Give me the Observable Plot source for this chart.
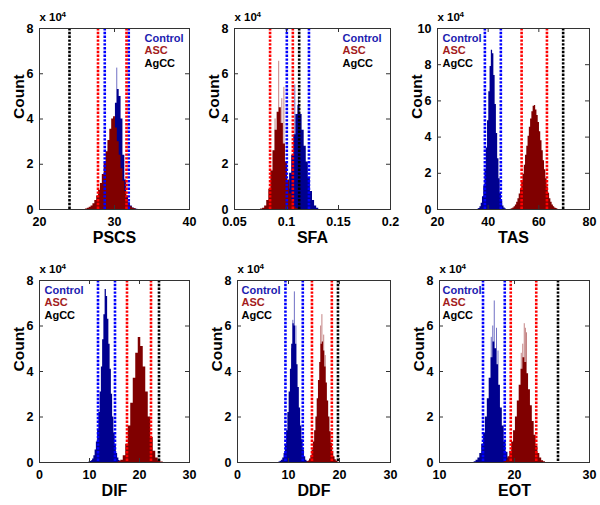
<!DOCTYPE html>
<html><head><meta charset="utf-8">
<script src="https://cdn.jsdelivr.net/npm/d3@7"></script>
<script src="https://cdn.jsdelivr.net/npm/@observablehq/plot@0.6"></script>
<style>
body{margin:0;background:#fff;}
#chart{position:relative;width:600px;height:505px;overflow:hidden;background:#fff;}
#chart svg{position:absolute;overflow:visible;}
</style></head><body><div id="chart"></div>
<script>
// ---------- data (counts in units of 10^4) ----------
const panelNames = ["PSCS", "SFA", "TAS", "DIF", "DDF", "EOT"];
const seriesNames = ["Control", "ASC", "AgCC"];
const xDomains = [[20, 40], [0.05, 0.2], [20, 80], [0, 30], [0, 30], [10, 30]];
const yMax = [8, 8, 10, 8, 8, 8];
const xTicks = [[20, 30, 40], [0.05, 0.1, 0.15, 0.2], [20, 40, 60, 80], [0, 10, 20, 30], [0, 10, 20, 30], [10, 20, 30]];
const xTickLabels = [["20", "30", "40"], ["0.05", "0.1", "0.15", "0.2"], ["20", "40", "60", "80"], ["0", "10", "20", "30"], ["0", "10", "20", "30"], ["10", "20", "30"]];
const yTicks = [[0, 2, 4, 6, 8], [0, 2, 4, 6, 8], [0, 2, 4, 6, 8, 10], [0, 2, 4, 6, 8], [0, 2, 4, 6, 8], [0, 2, 4, 6, 8]];
const yTickLabels = [["0", "2", "4", "6", "8"], ["0", "2", "4", "6", "8"], ["0", "2", "4", "6", "8", "10"], ["0", "2", "4", "6", "8"], ["0", "2", "4", "6", "8"], ["0", "2", "4", "6", "8"]];
const controlBinWidth = [0.25, 0.002, 0.5, 0.25, 0.25, 0.25];
const ascBinWidth = [0.25, 0.002, 0.5, 0.5, 0.25, 0.25];

const pscsControl = [[27.0,0.02],[27.25,0.04],[27.5,0.08],[27.75,0.15],[28.0,0.25],[28.25,0.45],[28.5,0.7],[28.75,1.0],[29.0,1.5],[29.25,2.0],[29.5,2.6],[29.75,3.3],[30.0,4.0],[30.25,4.7],[30.5,5.3],[30.75,5.0],[31.0,4.0],[31.25,2.4],[31.5,1.3],[31.75,0.6],[32.0,0.3],[32.25,0.15],[32.5,0.07],[32.75,0.03],[33.0,0.01]];
const pscsASC = [[26.25,0.02],[26.5,0.05],[26.75,0.1],[27.0,0.15],[27.25,0.25],[27.5,0.4],[27.75,0.6],[28.0,0.85],[28.25,1.15],[28.5,1.55],[28.75,2.05],[29.0,2.55],[29.25,3.05],[29.5,3.55],[29.75,4.0],[30.0,4.1],[30.25,3.6],[30.5,3.0],[30.75,2.4],[31.0,1.8],[31.25,1.25],[31.5,0.8],[31.75,0.45],[32.0,0.25],[32.25,0.12],[32.5,0.06],[32.75,0.03]];
const sfaControl = [[0.096,0.05],[0.098,0.2],[0.100,0.5],[0.102,0.9],[0.104,1.6],[0.106,2.4],[0.108,3.3],[0.110,4.2],[0.112,4.6],[0.114,4.2],[0.116,3.5],[0.118,2.8],[0.120,2.1],[0.122,1.4],[0.124,0.8],[0.126,0.4],[0.128,0.15],[0.130,0.05]];
const sfaASC = [[0.076,0.02],[0.078,0.06],[0.080,0.15],[0.082,0.4],[0.084,0.9],[0.086,1.7],[0.088,2.6],[0.090,3.5],[0.092,4.3],[0.094,4.5],[0.096,3.8],[0.098,2.9],[0.100,2.1],[0.102,1.3],[0.104,0.7],[0.106,0.35],[0.108,0.12],[0.110,0.04]];
const tasControl = [[36,0.02],[36.5,0.06],[37,0.15],[37.5,0.35],[38,0.7],[38.5,1.3],[39,2.2],[39.5,3.4],[40,4.9],[40.5,6.5],[41,7.9],[41.5,8.8],[42,8.6],[42.5,7.4],[43,5.8],[43.5,4.2],[44,2.8],[44.5,1.7],[45,0.9],[45.5,0.45],[46,0.2],[46.5,0.08],[47,0.03]];
const tasASC = [[49,0.02],[49.5,0.04],[50,0.08],[50.5,0.15],[51,0.25],[51.5,0.4],[52,0.6],[52.5,0.85],[53,1.15],[53.5,1.5],[54,1.95],[54.5,2.45],[55,3.0],[55.5,3.5],[56,4.05],[56.5,4.55],[57,5.0],[57.5,5.4],[58,5.7],[58.5,5.75],[59,5.5],[59.5,5.2],[60,4.8],[60.5,4.3],[61,3.8],[61.5,3.25],[62,2.7],[62.5,2.2],[63,1.7],[63.5,1.25],[64,0.9],[64.5,0.6],[65,0.4],[65.5,0.25],[66,0.15],[66.5,0.08],[67,0.05],[67.5,0.02]];
const difControl = [[10.0,0.02],[10.25,0.04],[10.5,0.08],[10.75,0.15],[11.0,0.3],[11.25,0.55],[11.5,0.9],[11.75,1.45],[12.0,2.2],[12.25,3.1],[12.5,4.2],[12.75,5.4],[13.0,6.5],[13.25,7.6],[13.5,7.3],[13.75,6.3],[14.0,5.2],[14.25,4.1],[14.5,3.0],[14.75,2.0],[15.0,1.3],[15.25,0.75],[15.5,0.4],[15.75,0.2],[16.0,0.09],[16.25,0.04]];
const difASC = [[16,0.03],[16.5,0.1],[17,0.3],[17.5,0.8],[18,1.6],[18.5,2.6],[19,3.7],[19.5,4.8],[20,5.5],[20.5,5.1],[21,4.2],[21.5,3.1],[22,2.0],[22.5,1.1],[23,0.5],[23.5,0.2],[24,0.07],[24.5,0.02]];
const ddfControl = [[8.25,0.02],[8.5,0.05],[8.75,0.1],[9.0,0.2],[9.25,0.4],[9.5,0.8],[9.75,1.4],[10.0,2.2],[10.25,3.1],[10.5,4.1],[10.75,5.2],[11.0,6.1],[11.25,6.0],[11.5,5.2],[11.75,4.3],[12.0,3.3],[12.25,2.4],[12.5,1.6],[12.75,1.0],[13.0,0.55],[13.25,0.25],[13.5,0.1],[13.75,0.04]];
const ddfASC = [[13.75,0.03],[14.0,0.07],[14.25,0.15],[14.5,0.3],[14.75,0.55],[15.0,0.9],[15.25,1.4],[15.5,2.0],[15.75,2.8],[16.0,3.6],[16.25,4.4],[16.5,5.2],[16.75,5.3],[17.0,4.9],[17.25,4.2],[17.5,3.5],[17.75,2.7],[18.0,2.0],[18.25,1.35],[18.5,0.85],[18.75,0.5],[19.0,0.25],[19.25,0.12],[19.5,0.05],[19.75,0.02]];
const eotControl = [[14.75,0.03],[15.0,0.1],[15.25,0.2],[15.5,0.4],[15.75,0.8],[16.0,1.3],[16.25,2.0],[16.5,2.8],[16.75,3.7],[17.0,4.6],[17.25,5.3],[17.5,5.0],[17.75,4.3],[18.0,3.4],[18.25,2.4],[18.5,1.6],[18.75,0.9],[19.0,0.45],[19.25,0.2],[19.5,0.06]];
const eotASC = [[18.75,0.03],[19.0,0.1],[19.25,0.25],[19.5,0.5],[19.75,0.9],[20.0,1.4],[20.25,2.0],[20.5,2.7],[20.75,3.4],[21.0,4.1],[21.25,4.6],[21.5,4.4],[21.75,3.9],[22.0,3.2],[22.25,2.5],[22.5,1.8],[22.75,1.2],[23.0,0.7],[23.25,0.4],[23.5,0.2],[23.75,0.08],[24.0,0.03]];

// narrow single-bin peaks standing above the bulk of each histogram
const controlSpikes = [[[30.3,6.25]], [[0.108,5.5],[0.1115,4.9]], [], [], [[11.15,7.5],[10.85,6.25],[11.45,6.0],[10.6,5.0]], [[17.3,7.1],[17.1,6.0],[17.6,5.9],[16.9,5.5],[17.8,4.9]]];
const ascSpikes = [[], [[0.0925,6.55],[0.0975,5.4],[0.089,4.0],[0.0955,4.9]], [], [], [[16.55,6.5],[16.3,6.0],[16.9,5.6],[17.2,4.7]], [[21.3,6.1],[21.1,5.2],[21.6,5.7],[21.45,5.9],[20.9,4.8]]];

// dashed reference lines
const controlLines = [[28.7, 31.9], [0.1003, 0.1216], [38.7, 45.0], [11.7, 15.1], [9.4, 12.8], [15.8, 18.7]];
const ascLines = [[27.8, 31.6], [0.0842, 0.1061], [53.2, 63.2], [17.5, 22.3], [14.6, 18.5], [19.5, 22.9]];
const agccLines = [[24.0], [0.1122], [69.6], [23.9], [19.7], [25.8]];

const controlData = [pscsControl, sfaControl, tasControl, difControl, ddfControl, eotControl];
const ascData = [pscsASC, sfaASC, tasASC, difASC, ddfASC, eotASC];

// ---------- layout & style ----------
const FONT = "'Liberation Sans', Arial, Helvetica, sans-serif";
const boxes = [[39, 28, 150, 181], [234, 28, 156, 181], [437, 28, 152, 181], [39, 280, 150, 182], [237, 280, 153, 182], [439, 280, 150, 182]];
const legendDx = [105, 108, 5, 5, 4, 3];
const M = {left: 39, top: 28, right: 10, bottom: 42};
const navy = "#00008f", navyLight = "#7070c4";
const maroon = "#800000", maroonLight = "#c48484";
const legendColors = ["#1c1cb0", "#a31c1c", "#000000"];

// step outline of a histogram from [binCenter, count] pairs
function steps(data, w) {
  const pts = data.map(d => [d[0] - w / 2, d[1]]);
  const last = data[data.length - 1];
  pts.push([last[0] + w / 2, last[1]]);
  return pts;
}

const chart = document.getElementById("chart");

panelNames.forEach((name, i) => {
  const [bx, by, bw, bh] = boxes[i];
  const [x0, x1] = xDomains[i];
  const ym = yMax[i];
  const tx = (x1 - x0) * 4 / bw;
  const ty = ym * 4 / bh;
  const cw = controlBinWidth[i], aw = ascBinWidth[i];
  const axisStroke = "#333";
  const dash = {strokeWidth: 2.6, strokeDasharray: "2.4,1.4"};
  const plot = Plot.plot({
    width: bw + M.left + M.right,
    height: bh + M.top + M.bottom,
    marginLeft: M.left, marginRight: M.right, marginTop: M.top, marginBottom: M.bottom,
    style: {fontFamily: FONT, background: "transparent", overflow: "visible"},
    x: {domain: xDomains[i]},
    y: {domain: [0, ym]},
    marks: [
      Plot.ruleX(controlSpikes[i], {x: d => d[0], y1: 0, y2: d => d[1], stroke: navyLight, strokeWidth: 1}),
      Plot.areaY(steps(controlData[i], cw), {x: d => d[0], y: d => d[1], curve: "step-after", fill: navy}),
      Plot.ruleX(ascSpikes[i], {x: d => d[0], y1: 0, y2: d => d[1], stroke: maroonLight, strokeWidth: 1}),
      Plot.areaY(steps(ascData[i], aw), {x: d => d[0], y: d => d[1], curve: "step-after", fill: maroon}),
      Plot.ruleX(controlLines[i], {stroke: "#0000ff", ...dash}),
      Plot.ruleX(ascLines[i], {stroke: "#ff0000", ...dash}),
      Plot.ruleX(agccLines[i], {stroke: "#000000", ...dash}),
      // inward ticks on all four sides
      Plot.ruleX(xTicks[i], {y1: 0, y2: ty, stroke: axisStroke}),
      Plot.ruleX(xTicks[i], {y1: ym - ty, y2: ym, stroke: axisStroke}),
      Plot.ruleY(yTicks[i], {x1: x0, x2: x0 + tx, stroke: axisStroke}),
      Plot.ruleY(yTicks[i], {x1: x1 - tx, x2: x1, stroke: axisStroke}),
      Plot.frame({stroke: axisStroke}),
      Plot.axisX({ticks: xTicks[i], tickSize: 0, tickPadding: 8, tickFormat: d => xTickLabels[i][xTicks[i].indexOf(d)], fontSize: 12.5, fontWeight: "bold", fill: "#000", label: null}),
      Plot.axisY({ticks: yTicks[i], tickSize: 0, tickPadding: 6, tickFormat: d => yTickLabels[i][yTicks[i].indexOf(d)], fontSize: 12.5, fontWeight: "bold", fill: "#000", label: null}),
      Plot.text([name], {frameAnchor: "bottom", dy: 28, lineAnchor: "middle", fontSize: 16, fontWeight: "bold", fill: "#000"}),
      Plot.text(["Count"], {frameAnchor: "left", dx: -20, rotate: -90, lineAnchor: "middle", fontSize: 15.5, fontWeight: "bold", fill: "#000"}),
      Plot.text(["x 10"], {frameAnchor: "top-left", dy: -11, textAnchor: "start", lineAnchor: "middle", fontSize: 11.5, fontWeight: "bold", fill: "#000"}),
      Plot.text(["4"], {frameAnchor: "top-left", dx: 22, dy: -14, textAnchor: "start", lineAnchor: "middle", fontSize: 8, fontWeight: "bold", fill: "#000"}),
      ...seriesNames.map((s, k) => Plot.text([s], {frameAnchor: "top-left", dx: legendDx[i], dy: 9.5 + k * 12.8, textAnchor: "start", lineAnchor: "middle", fontSize: 11, fontWeight: "bold", fill: legendColors[k]}))
    ]
  });
  plot.style.position = "absolute";
  plot.style.left = (bx - M.left) + "px";
  plot.style.top = (by - M.top) + "px";
  plot.style.maxWidth = "none";
  chart.appendChild(plot);
});
</script></body></html>
